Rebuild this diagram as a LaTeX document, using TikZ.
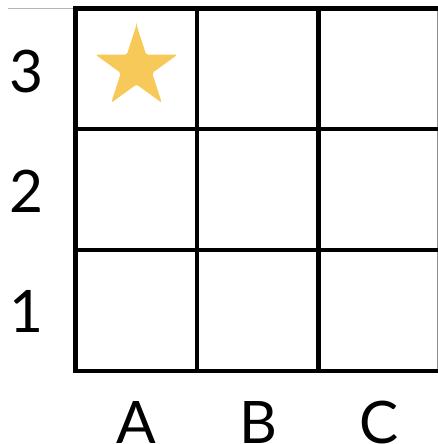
\documentclass[tikz,border=0pt]{standalone}
\usepackage{fontspec}
\usetikzlibrary{calc}
\setmainfont{Lato}
\definecolor{stargold}{HTML}{F7C958}
\definecolor{edgegray}{HTML}{B4B4B4}
\begin{document}
\begin{tikzpicture}[x=1pt,y=1pt,
  gridline/.style={line width=4.4pt,line cap=rect,black},
  axislabel/.style={font=\fontsize{58.6}{60}\selectfont,anchor=base,inner sep=0pt}]
\useasboundingbox (0,0) rectangle (438,444);
% faint edge lines
\draw[edgegray,line width=1pt] (8,435.5) -- (73,435.5);
\draw[edgegray!80!black,line width=1.2pt] (437.2,434) -- (437.2,75);
% grid horizontals
\foreach \y in {435.3,315,194,73}
  \draw[gridline] (75.5,\y) -- (440,\y);
% grid verticals
\foreach \x in {75.5,197,318.3}
  \draw[gridline] (\x,435.3) -- (\x,73);
% star
\coordinate (starc) at (136.5,376);
\fill[stargold,rounded corners=2.2pt]
  ($(starc)+(90:43.1)$)
  \foreach \k in {0,...,4}{
    -- ($(starc)+(126+72*\k:16.46)$) -- ($(starc)+(162+72*\k:43.1)$)
  } -- cycle;
% labels
\node[axislabel] (colA) at (136,1) {A};
\node[axislabel] (colB) at (258,1) {B};
\node[axislabel] (colC) at (379,1) {C};
\node[axislabel] (row3) at (26,351) {3};
\node[axislabel] (row2) at (26,231) {2};
\node[axislabel] (row1) at (26,111) {1};
\end{tikzpicture}
\end{document}
